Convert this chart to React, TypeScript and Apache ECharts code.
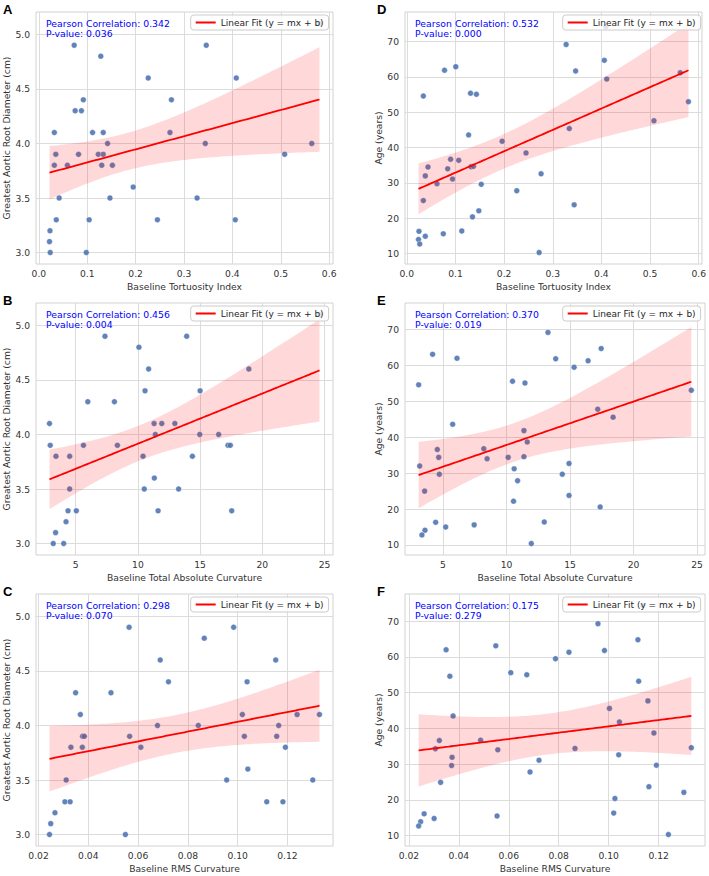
import { useEffect, useRef } from 'react';
import * as echarts from 'echarts';

type Pt = [number, number];

// A: Baseline Tortuosity Index vs Greatest Aortic Root Diameter (cm)
const tortuosityDiameter: Pt[] = [
  [0.073, 4.9], [0.128, 4.8], [0.346, 4.9], [0.226, 4.6], [0.408, 4.6], [0.092, 4.4], [0.274, 4.4],
  [0.075, 4.3], [0.088, 4.3], [0.032, 4.1], [0.111, 4.1], [0.133, 4.1], [0.271, 4.1], [0.142, 4.0],
  [0.344, 4.0], [0.564, 4.0], [0.035, 3.9], [0.082, 3.9], [0.123, 3.9], [0.133, 3.9], [0.508, 3.9],
  [0.032, 3.8], [0.059, 3.8], [0.130, 3.8], [0.152, 3.8], [0.195, 3.6], [0.042, 3.5], [0.147, 3.5],
  [0.327, 3.5], [0.036, 3.3], [0.104, 3.3], [0.245, 3.3], [0.406, 3.3], [0.023, 3.2], [0.022, 3.1],
  [0.0235, 3.0], [0.098, 3.0], [0.580, 5.1],
];

// B: Baseline Total Absolute Curvature vs Greatest Aortic Root Diameter (cm)
const totalCurvatureDiameter: Pt[] = [
  [7.35, 4.9], [13.92, 4.9], [10.08, 4.8], [10.86, 4.6], [18.92, 4.6], [10.57, 4.4], [15.0, 4.4],
  [5.97, 4.3], [8.11, 4.3], [2.89, 4.1], [11.3, 4.1], [11.92, 4.1], [12.97, 4.1], [11.4, 4.0],
  [14.97, 4.0], [16.49, 4.0], [2.95, 3.9], [5.62, 3.9], [8.35, 3.9], [17.24, 3.9], [17.43, 3.9],
  [3.41, 3.8], [4.51, 3.8], [10.41, 3.8], [14.38, 3.8], [11.32, 3.6], [4.51, 3.5], [10.51, 3.5],
  [13.27, 3.5], [4.38, 3.3], [5.05, 3.3], [11.62, 3.3], [17.54, 3.3], [4.22, 3.2], [3.38, 3.1],
  [3.19, 3.0], [4.03, 3.0], [24.6, 5.1],
];

// C: Baseline RMS Curvature vs Greatest Aortic Root Diameter (cm)
const rmsCurvatureDiameter: Pt[] = [
  [0.0564, 4.9], [0.0984, 4.9], [0.0866, 4.8], [0.0689, 4.6], [0.1153, 4.6], [0.0491, 4.3],
  [0.0349, 4.3], [0.0722, 4.4], [0.1038, 4.4], [0.0368, 4.1], [0.1019, 4.1], [0.1239, 4.1],
  [0.1329, 4.1], [0.0678, 4.0], [0.0842, 4.0], [0.1165, 4.0], [0.0377, 3.9], [0.0384, 3.9],
  [0.0566, 3.9], [0.1027, 3.9], [0.1157, 3.9], [0.0330, 3.8], [0.0376, 3.8], [0.0611, 3.8],
  [0.1192, 3.8], [0.1041, 3.6], [0.0311, 3.5], [0.0956, 3.5], [0.1302, 3.5], [0.0306, 3.3],
  [0.0327, 3.3], [0.1117, 3.3], [0.1182, 3.3], [0.0266, 3.2], [0.0249, 3.1], [0.0244, 3.0],
  [0.0549, 3.0], [0.112, 5.1],
];

// D: Baseline Tortuosity Index vs Age (years)
const tortuosityAge: Pt[] = [
  [0.3275, 69.2], [0.409, 74.2], [0.406, 64.7], [0.0775, 61.9], [0.1006, 62.9], [0.347, 61.7],
  [0.562, 61.2], [0.411, 59.4], [0.034, 54.6], [0.131, 55.4], [0.143, 55.1], [0.579, 53.0],
  [0.508, 47.6], [0.334, 45.4], [0.127, 43.6], [0.196, 41.8], [0.245, 38.5], [0.090, 36.7],
  [0.1067, 36.4], [0.0435, 34.5], [0.084, 34.0], [0.132, 34.6], [0.137, 34.7], [0.038, 32.0],
  [0.276, 32.6], [0.094, 31.1], [0.062, 29.8], [0.153, 29.6], [0.226, 27.8], [0.034, 25.0],
  [0.344, 23.8], [0.148, 22.1], [0.135, 20.4], [0.025, 16.3], [0.113, 16.4], [0.075, 15.6],
  [0.038, 14.9], [0.024, 14.0], [0.0265, 12.7], [0.272, 10.3],
];

// E: Baseline Total Absolute Curvature vs Age (years)
const totalCurvatureAge: Pt[] = [
  [13.26, 69.2], [17.45, 64.7], [4.18, 63.1], [6.1, 62.0], [13.87, 61.85], [16.42, 61.3],
  [15.32, 59.5], [3.08, 54.6], [10.47, 55.6], [11.45, 55.1], [24.55, 53.1], [17.18, 47.8],
  [18.39, 45.6], [5.76, 43.6], [11.37, 41.85], [11.63, 38.7], [4.55, 36.6], [8.21, 36.8],
  [4.66, 34.4], [8.47, 34.0], [10.13, 34.4], [11.37, 34.6], [3.16, 32.0], [14.92, 32.7],
  [10.6, 31.2], [4.71, 29.7], [14.39, 29.7], [10.87, 27.9], [3.55, 25.0], [14.92, 23.8],
  [10.55, 22.2], [17.37, 20.6], [4.42, 16.3], [12.97, 16.4], [7.45, 15.6], [5.21, 15.0],
  [3.58, 14.1], [3.34, 12.8], [11.95, 10.4], [18.0, 74.2],
];

// F: Baseline RMS Curvature vs Age (years)
const rmsCurvatureAge: Pt[] = [
  [0.0957, 69.3], [0.1117, 64.8], [0.0349, 62.0], [0.0548, 63.1], [0.0841, 61.3], [0.0983, 61.8],
  [0.0787, 59.5], [0.0364, 54.6], [0.0608, 55.6], [0.0672, 55.0], [0.112, 53.2], [0.1157, 47.7],
  [0.1003, 45.6], [0.0377, 43.5], [0.1043, 41.8], [0.1181, 38.7], [0.0487, 36.7], [0.0322, 36.6],
  [0.0306, 34.3], [0.0556, 34.0], [0.0865, 34.4], [0.1331, 34.6], [0.0373, 31.9], [0.0721, 31.1],
  [0.1040, 32.6], [0.0371, 29.6], [0.1191, 29.7], [0.0685, 27.8], [0.0327, 24.9], [0.1161, 23.7],
  [0.1301, 22.1], [0.1025, 20.4], [0.1020, 16.3], [0.0261, 16.1], [0.0553, 15.5], [0.0301, 14.8],
  [0.0247, 13.9], [0.0239, 12.7], [0.1239, 10.3], [0.1137, 74.4],
];

const tortuosityTicks = [0.0, 0.1, 0.2, 0.3, 0.4, 0.5, 0.6];
const totalCurvatureTicks = [5, 10, 15, 20, 25];
const rmsCurvatureTicks = [0.02, 0.04, 0.06, 0.08, 0.1, 0.12];
const diameterTicks = [3.0, 3.5, 4.0, 4.5, 5.0];
const ageTicks = [10, 20, 30, 40, 50, 60, 70];

const FIT_NAME = 'Linear Fit (y = mx + b)';
const FONT = 'DejaVu Sans';

const panels = [
  { letter: 'A', col: 0, row: 0, data: tortuosityDiameter, r: '0.342', p: '0.036', xName: 'Baseline Tortuosity Index', yName: 'Greatest Aortic Root Diameter (cm)', xTicks: tortuosityTicks, yTicks: diameterTicks, xDigits: 1, yDigits: 1 },
  { letter: 'B', col: 0, row: 1, data: totalCurvatureDiameter, r: '0.456', p: '0.004', xName: 'Baseline Total Absolute Curvature', yName: 'Greatest Aortic Root Diameter (cm)', xTicks: totalCurvatureTicks, yTicks: diameterTicks, xDigits: 0, yDigits: 1 },
  { letter: 'C', col: 0, row: 2, data: rmsCurvatureDiameter, r: '0.298', p: '0.070', xName: 'Baseline RMS Curvature', yName: 'Greatest Aortic Root Diameter (cm)', xTicks: rmsCurvatureTicks, yTicks: diameterTicks, xDigits: 2, yDigits: 1 },
  { letter: 'D', col: 1, row: 0, data: tortuosityAge, r: '0.532', p: '0.000', xName: 'Baseline Tortuosity Index', yName: 'Age (years)', xTicks: tortuosityTicks, yTicks: ageTicks, xDigits: 1, yDigits: 0 },
  { letter: 'E', col: 1, row: 1, data: totalCurvatureAge, r: '0.370', p: '0.019', xName: 'Baseline Total Absolute Curvature', yName: 'Age (years)', xTicks: totalCurvatureTicks, yTicks: ageTicks, xDigits: 0, yDigits: 0 },
  { letter: 'F', col: 1, row: 2, data: rmsCurvatureAge, r: '0.175', p: '0.279', xName: 'Baseline RMS Curvature', yName: 'Age (years)', xTicks: rmsCurvatureTicks, yTicks: ageTicks, xDigits: 2, yDigits: 0 },
];

const W = 709;
const H = 876;
const COL_LEFT = [36, 405];
const COL_WIDTH = [297, 300];
const ROW_TOP = [12, 303, 594];
const ROW_HEIGHT = 252;
const Y_NAME_GAP = [24, 21];

function linearFit(data: Pt[]) {
  const n = data.length;
  let mx = 0, my = 0;
  data.forEach(([x, y]) => { mx += x; my += y; });
  mx /= n; my /= n;
  let sxx = 0, sxy = 0;
  data.forEach(([x, y]) => { sxx += (x - mx) ** 2; sxy += (x - mx) * (y - my); });
  const b = sxy / sxx;
  const a = my - b * mx;
  let sse = 0;
  data.forEach(([x, y]) => { sse += (y - a - b * x) ** 2; });
  const s = Math.sqrt(sse / (n - 2));
  const t = 2.03;
  const xs = data.map((d) => d[0]);
  const xmin = Math.min(...xs), xmax = Math.max(...xs);
  const steps = 100;
  const line: Pt[] = [], lower: Pt[] = [], upper: Pt[] = [];
  let bandMin = Infinity, bandMax = -Infinity;
  for (let i = 0; i <= steps; i++) {
    const x = xmin + ((xmax - xmin) * i) / steps;
    const yh = a + b * x;
    const h = t * s * Math.sqrt(1 / n + (x - mx) ** 2 / sxx);
    line.push([x, yh]);
    lower.push([x, yh - h]);
    upper.push([x, yh + h]);
    bandMin = Math.min(bandMin, yh - h);
    bandMax = Math.max(bandMax, yh + h);
  }
  return { line, lower, upper, bandMin, bandMax, xmin, xmax };
}

function padded(lo: number, hi: number): [number, number] {
  const r = hi - lo;
  return [lo - 0.05 * r, hi + 0.05 * r];
}

export default function App() {
  const ref = useRef<HTMLDivElement>(null);
  useEffect(() => {
    if (!ref.current) return;
    const chart = echarts.init(ref.current, undefined, { renderer: 'svg' });
    const grids: any[] = [];
    const xAxes: any[] = [];
    const yAxes: any[] = [];
    const series: any[] = [];
    const legends: any[] = [];
    const elements: any[] = [];
    const labelStyle = { color: '#333', fontSize: 9.2, fontFamily: FONT };

    panels.forEach((p, i) => {
      const left = COL_LEFT[p.col];
      const width = COL_WIDTH[p.col];
      const top = ROW_TOP[p.row];
      const fit = linearFit(p.data);
      const ys = p.data.map((d) => d[1]);
      const [xMin, xMax] = padded(fit.xmin, fit.xmax);
      const [yMin, yMax] = padded(Math.min(Math.min(...ys), fit.bandMin), Math.max(Math.max(...ys), fit.bandMax));

      grids.push({ left, top, width, height: ROW_HEIGHT, show: true, borderColor: '#d2d2d2', borderWidth: 1, backgroundColor: '#fff' });
      xAxes.push({
        gridIndex: i, type: 'value', min: xMin, max: xMax,
        axisLine: { show: false }, axisTick: { show: false, customValues: p.xTicks },
        axisLabel: { ...labelStyle, customValues: p.xTicks, margin: 5, formatter: (v: number) => v.toFixed(p.xDigits) },
        splitLine: { show: true, lineStyle: { color: '#dcdcdc', width: 1 } },
        name: p.xName, nameLocation: 'middle', nameGap: 18, nameTextStyle: labelStyle,
      });
      yAxes.push({
        gridIndex: i, type: 'value', min: yMin, max: yMax,
        axisLine: { show: false }, axisTick: { show: false, customValues: p.yTicks },
        axisLabel: { ...labelStyle, customValues: p.yTicks, margin: 6, formatter: (v: number) => v.toFixed(p.yDigits) },
        splitLine: { show: true, lineStyle: { color: '#dcdcdc', width: 1 } },
        name: p.yName, nameLocation: 'middle', nameGap: Y_NAME_GAP[p.col], nameTextStyle: labelStyle,
      });
      series.push({
        type: 'scatter', xAxisIndex: i, yAxisIndex: i, data: p.data, symbolSize: 5.8,
        itemStyle: { color: '#4C72B0', opacity: 0.88, borderColor: '#ffffff', borderWidth: 0.4 }, silent: true, z: 1,
      });
      const upper = fit.upper;
      const lower = fit.lower;
      series.push({
        type: 'custom', xAxisIndex: i, yAxisIndex: i, data: [fit.line[0]], silent: true, z: 2,
        renderItem: (_params: any, api: any) => {
          const pts = upper.map((d) => api.coord(d)).concat(lower.slice().reverse().map((d) => api.coord(d)));
          return { type: 'polygon', shape: { points: pts }, style: { fill: 'rgba(255,0,0,0.15)', stroke: 'none' } };
        },
      });
      series.push({
        name: FIT_NAME, type: 'line', xAxisIndex: i, yAxisIndex: i, data: fit.line, symbol: 'none',
        lineStyle: { color: '#ff0000', width: 1.8 }, itemStyle: { color: '#ff0000' }, silent: true, z: 3,
      });
      legends.push({
        data: [{ name: FIT_NAME }], right: W - (left + width - 4.4), top: top + 3,
        icon: 'rect', itemWidth: 20, itemHeight: 2, padding: [3, 5, 3, 5],
        backgroundColor: 'rgba(255,255,255,0.8)', borderColor: '#cccccc', borderWidth: 1, borderRadius: 3,
        textStyle: { fontSize: 9, color: '#262626', fontFamily: FONT }, selectedMode: false,
      });
      elements.push({
        type: 'text', left: left + 10, top: top + 6, z: 10,
        style: { text: `Pearson Correlation: ${p.r}\nP-value: ${p.p}`, fill: '#0000ff', font: `9.3px "${FONT}"`, lineHeight: 10.5 },
      });
      elements.push({
        type: 'text', left: p.col === 0 ? 3 : 377, top: top - 9.5, z: 10,
        style: { text: p.letter, fill: '#000', font: 'bold 13px "Liberation Sans"' },
      });
    });

    chart.setOption({
      animation: false,
      backgroundColor: '#ffffff',
      grid: grids,
      xAxis: xAxes,
      yAxis: yAxes,
      series,
      legend: legends,
      graphic: { elements },
    });
    return () => chart.dispose();
  }, []);
  return <div ref={ref} style={{ position: 'fixed', left: 0, top: 0, width: W, height: H }} />;
}
